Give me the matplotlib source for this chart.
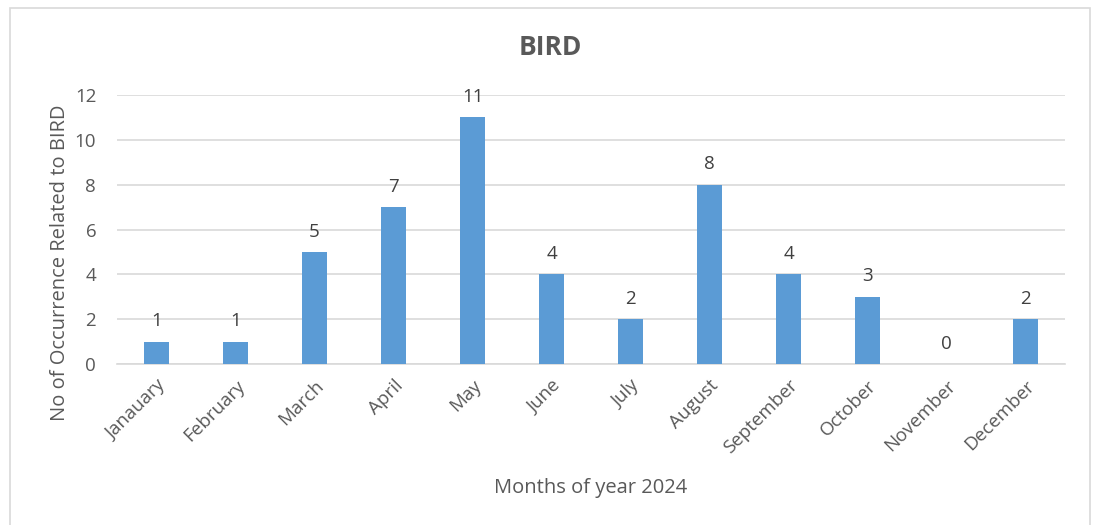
import matplotlib.pyplot as plt
from matplotlib.patches import Rectangle

months = ['Janauary', 'February', 'March', 'April', 'May', 'June', 'July',
          'August', 'September', 'October', 'November', 'December']
counts = [1, 1, 5, 7, 11, 4, 2, 8, 4, 3, 0, 2]
y_ticks = [0, 2, 4, 6, 8, 10, 12]

plt.rcParams['font.family'] = ['Open Sans', 'DejaVu Sans']
grey = '#595959'

fig = plt.figure(figsize=(10.97, 5.25), dpi=100)
ax = fig.add_axes([0.1067, 0.3067, 0.8643, 0.5123])

# outer chart frame
fig.patches.append(Rectangle((0.009, -0.01), 0.985, 0.995, transform=fig.transFigure,
                             fill=False, edgecolor='#d9d9d9', linewidth=1.2))

x = range(len(months))
bars = ax.bar(x, counts, width=0.32, color='#5b9bd5', zorder=3)
for b, v in zip(bars, counts):
    ax.annotate(str(v), (b.get_x() + b.get_width() / 2, v), xytext=(0, 11),
                textcoords='offset points', ha='center', va='baseline',
                fontsize=13.5, color='#404040')

ax.set_xlim(-0.5, len(months) - 0.5)
ax.set_ylim(0, 12)
ax.set_yticks(y_ticks)
ax.yaxis.grid(True, color='#d9d9d9', linewidth=1.2, zorder=0)
ax.set_xticks(list(x))
ax.set_xticklabels(months, rotation=45, ha='right', rotation_mode='anchor')
ax.tick_params(axis='both', length=0, labelsize=13.5, labelcolor=grey)
ax.tick_params(axis='x', pad=9)
ax.tick_params(axis='y', pad=15)
for s in ['top', 'right', 'left']:
    ax.spines[s].set_visible(False)
ax.spines['bottom'].set_color('#d9d9d9')
ax.spines['bottom'].set_linewidth(1.2)

fig.text(0.502, 0.910, 'BIRD', fontsize=19, fontweight='bold', color=grey,
         ha='center', va='center')
fig.text(0.538, 0.070, 'Months of year 2024', fontsize=14.5, color=grey,
         ha='center', va='center')
fig.text(0.0547, 0.50, 'No of Occurrence Related to BIRD', fontsize=14.5, color=grey,
         ha='center', va='center', rotation=90)

fig.savefig('out.png', dpi=100)
